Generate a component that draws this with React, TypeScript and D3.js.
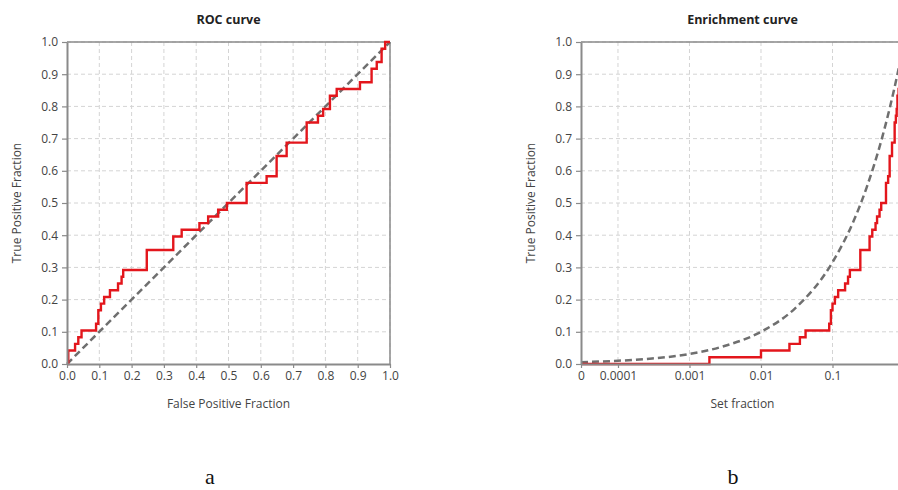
import React, { useEffect, useRef } from "react";
import * as d3 from "d3";

// ROC curve steps (false positive fraction, true positive fraction)
const rocFpr = [0, 0.004, 0.025, 0.035, 0.045, 0.09, 0.097, 0.105, 0.115, 0.133, 0.158, 0.169, 0.174, 0.247, 0.329, 0.355, 0.41, 0.437, 0.468, 0.495, 0.556, 0.618, 0.649, 0.68, 0.742, 0.777, 0.793, 0.814, 0.835, 0.907, 0.943, 0.959, 0.974, 0.985, 1.0];
const rocTpr = [0, 0.042, 0.0625, 0.083, 0.104, 0.125, 0.167, 0.1875, 0.208, 0.229, 0.25, 0.271, 0.292, 0.354, 0.396, 0.417, 0.4375, 0.458, 0.479, 0.5, 0.5625, 0.583, 0.646, 0.6875, 0.75, 0.771, 0.792, 0.833, 0.854, 0.875, 0.917, 0.938, 0.979, 1.0, 1.0];

// random classifier diagonal
const diagFpr = [0, 1];
const diagTpr = [0, 1];

// enrichment curve steps (set fraction, true positive fraction)
const enrFraction = [3.04e-5, 0.0019, 0.01, 0.025, 0.035, 0.042, 0.09, 0.095, 0.1, 0.108, 0.12, 0.15, 0.165, 0.175, 0.245, 0.33, 0.36, 0.4, 0.42, 0.455, 0.48, 0.56, 0.6, 0.63, 0.68, 0.74, 0.77, 0.79, 0.81, 0.84, 0.9, 0.94, 0.96, 0.975, 0.985, 1.0];
const enrTpr = [0, 0.021, 0.042, 0.0625, 0.083, 0.104, 0.125, 0.167, 0.1875, 0.208, 0.229, 0.25, 0.271, 0.292, 0.354, 0.396, 0.417, 0.4375, 0.458, 0.479, 0.5, 0.5625, 0.583, 0.646, 0.6875, 0.75, 0.771, 0.792, 0.833, 0.854, 0.875, 0.917, 0.938, 0.979, 1.0, 1.0];

// random reference curve on the enrichment plot
const randFraction = [3.04e-5, 1e-4, 3e-4, 1e-3, 3e-3, 0.01, 0.03, 0.1, 0.2, 0.3, 0.5, 0.81, 1];
const randTpr = [0.0055, 0.01, 0.017, 0.031, 0.055, 0.1, 0.173, 0.316, 0.447, 0.548, 0.707, 0.9, 1.0];

const linearTicks = [0, 0.1, 0.2, 0.3, 0.4, 0.5, 0.6, 0.7, 0.8, 0.9, 1.0];
const logTicks = [3.04e-5, 1e-4, 1e-3, 1e-2, 1e-1];
const logTickLabels = ["0", "0.0001", "0.001", "0.01", "0.1"];

const FONT = "'Open Sans', sans-serif";
const RED = "#e3161c";
const REF = "#6f6f6f";
const AXIS = "#8a8a8a";
const GRID = "#d4d4d4";

type PanelOpts = {
  x: any;
  y: d3.ScaleLinear<number, number>;
  xTicks: number[];
  xFormat: (d: number, i: number) => string;
  title: string;
  xLabel: string;
  yLabel: string;
  yLabelX: number;
  curveX: number[];
  curveY: number[];
  refX: number[];
  refY: number[];
  refCurve: d3.CurveFactory;
};

function drawPanel(svg: d3.Selection<SVGSVGElement, unknown, null, undefined>, o: PanelOpts) {
  const [x0, x1] = o.x.range();
  const [y0, y1] = o.y.range(); // bottom, top
  const g = svg.append("g");

  // grid
  g.append("g")
    .selectAll("line")
    .data(o.xTicks.slice(1))
    .join("line")
    .attr("x1", (d) => o.x(d))
    .attr("x2", (d) => o.x(d))
    .attr("y1", y1)
    .attr("y2", y0)
    .attr("stroke", GRID)
    .attr("stroke-dasharray", "4,3");
  g.append("g")
    .selectAll("line")
    .data(linearTicks.slice(1))
    .join("line")
    .attr("x1", x0)
    .attr("x2", x1)
    .attr("y1", (d) => o.y(d))
    .attr("y2", (d) => o.y(d))
    .attr("stroke", GRID)
    .attr("stroke-dasharray", "4,3");

  // frame top and right
  g.append("line").attr("x1", x0).attr("x2", x1).attr("y1", y1).attr("y2", y1)
    .attr("stroke", AXIS).attr("stroke-width", 1.5);
  g.append("line").attr("x1", x1).attr("x2", x1).attr("y1", y1).attr("y2", y0)
    .attr("stroke", AXIS).attr("stroke-width", 1.5);

  // reference (dashed)
  const refPts: [number, number][] = o.refX.map((v, i) => [o.x(v), o.y(o.refY[i])]);
  g.append("path")
    .attr("d", d3.line().curve(o.refCurve)(refPts))
    .attr("fill", "none")
    .attr("stroke", REF)
    .attr("stroke-width", 2.5)
    .attr("stroke-dasharray", "7,4");

  // step curve
  const pts: [number, number][] = o.curveX.map((v, i) => [o.x(v), o.y(o.curveY[i])]);
  g.append("path")
    .attr("d", d3.line().curve(d3.curveStepAfter)(pts))
    .attr("fill", "none")
    .attr("stroke", RED)
    .attr("stroke-width", 2.4);

  // axes
  const yAxis = g.append("g")
    .attr("transform", `translate(${x0},0)`)
    .call(d3.axisLeft(o.y).tickValues(linearTicks).tickFormat(d3.format(".1f")).tickSize(5).tickSizeOuter(0).tickPadding(4));
  const xAxis = g.append("g")
    .attr("transform", `translate(0,${y0})`)
    .call(d3.axisBottom(o.x).tickValues(o.xTicks).tickFormat(o.xFormat as any).tickSize(4).tickSizeOuter(0).tickPadding(3));
  [yAxis, xAxis].forEach((a) => {
    a.select(".domain").attr("stroke", AXIS).attr("stroke-width", 2);
    a.selectAll(".tick line").attr("stroke", AXIS).attr("stroke-width", 1.2);
    a.selectAll(".tick text").attr("fill", "#444").style("font-family", FONT).style("font-size", "12px");
  });

  const cx = (x0 + x1) / 2;
  g.append("text")
    .attr("x", cx)
    .attr("y", 24)
    .attr("text-anchor", "middle")
    .style("font-family", FONT)
    .style("font-size", "12.5px")
    .style("font-weight", "bold")
    .attr("fill", "#222")
    .text(o.title);
  g.append("text")
    .attr("x", cx)
    .attr("y", 408)
    .attr("text-anchor", "middle")
    .style("font-family", FONT)
    .style("font-size", "12px")
    .attr("fill", "#444")
    .text(o.xLabel);
  g.append("text")
    .attr("transform", `translate(${o.yLabelX},${(y0 + y1) / 2}) rotate(-90)`)
    .attr("text-anchor", "middle")
    .style("font-family", FONT)
    .style("font-size", "12px")
    .attr("fill", "#444")
    .text(o.yLabel);
}

const App: React.FC = () => {
  const svgRef = useRef<SVGSVGElement | null>(null);

  useEffect(() => {
    if (!svgRef.current) return;
    const svg = d3.select(svgRef.current);
    svg.selectAll("*").remove();

    const top = 42;
    const bottom = 364;

    const yRoc = d3.scaleLinear().domain([0, 1]).range([bottom, top]);
    const xRoc = d3.scaleLinear().domain([0, 1]).range([67, 390]);
    drawPanel(svg, {
      x: xRoc,
      y: yRoc,
      xTicks: linearTicks,
      xFormat: d3.format(".1f"),
      title: "ROC curve",
      xLabel: "False Positive Fraction",
      yLabel: "True Positive Fraction",
      yLabelX: 21,
      curveX: rocFpr,
      curveY: rocTpr,
      refX: diagFpr,
      refY: diagTpr,
      refCurve: d3.curveLinear,
    });

    const yEnr = d3.scaleLinear().domain([0, 1]).range([bottom, top]);
    const xEnr = d3.scaleLog().domain([logTicks[0], 1]).range([581, 904]);
    drawPanel(svg, {
      x: xEnr,
      y: yEnr,
      xTicks: logTicks,
      xFormat: (_d, i) => logTickLabels[i],
      title: "Enrichment curve",
      xLabel: "Set fraction",
      yLabel: "True Positive Fraction",
      yLabelX: 535,
      curveX: enrFraction,
      curveY: enrTpr,
      refX: randFraction,
      refY: randTpr,
      refCurve: d3.curveMonotoneX,
    });

    // panel captions
    svg.append("text").attr("x", 210).attr("y", 484).attr("text-anchor", "middle")
      .style("font-family", "'Liberation Serif', serif").style("font-size", "22px").attr("fill", "#111").text("a");
    svg.append("text").attr("x", 733).attr("y", 484).attr("text-anchor", "middle")
      .style("font-family", "'Liberation Serif', serif").style("font-size", "22px").attr("fill", "#111").text("b");
  }, []);

  return (
    <div style={{ position: "absolute", left: 0, top: 0 }}>
      <svg ref={svgRef} width={898} height={490} style={{ display: "block", background: "#fff" }} />
    </div>
  );
};

export default App;
